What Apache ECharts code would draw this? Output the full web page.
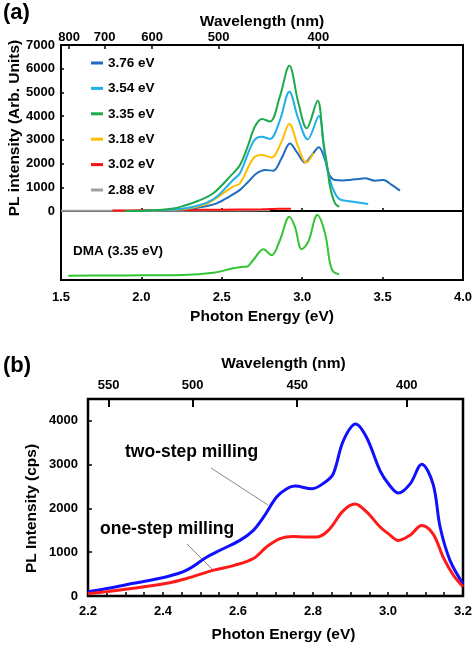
<!DOCTYPE html>
<html><head><meta charset="utf-8">
<script src="https://cdn.jsdelivr.net/npm/echarts@6/dist/echarts.min.js"></script>
<style>html,body{margin:0;padding:0;background:#fff}#c{width:472px;height:645px}</style>
</head><body><div id="c"></div>
<script>
// ---------- Panel (a) data ----------
const legendNamesA = ['3.76 eV', '3.54 eV', '3.35 eV', '3.18 eV', '3.02 eV', '2.88 eV'];
const colorsA = ['#1f6cc0', '#21aeea', '#1fa84c', '#ffbf00', '#ff1010', '#a0a0a0'];

const e376 = [1.9, 2.05, 2.2, 2.3, 2.4, 2.468, 2.55, 2.613, 2.66, 2.717, 2.77, 2.82, 2.87, 2.924, 2.97, 3.017, 3.06, 3.103, 3.142, 3.169, 3.204, 3.25, 3.297, 3.35, 3.39, 3.453, 3.505, 3.557, 3.608];
const v376 = [0, 10, 40, 90, 200, 320, 620, 890, 1200, 1590, 1730, 1700, 2200, 2850, 2450, 2040, 2350, 2690, 2150, 1520, 1310, 1290, 1310, 1350, 1380, 1280, 1310, 1100, 860];

const e354 = [1.9, 2.05, 2.2, 2.3, 2.4, 2.468, 2.57, 2.613, 2.696, 2.748, 2.8, 2.86, 2.92, 2.975, 3.034, 3.103, 3.142, 3.173, 3.204, 3.235, 3.318, 3.41];
const v354 = [0, 15, 60, 150, 330, 600, 1310, 1590, 2920, 3130, 3040, 3800, 5030, 3900, 3020, 4010, 2290, 1310, 750, 490, 390, 300];

const e335 = [1.9, 2.05, 2.2, 2.26, 2.35, 2.447, 2.55, 2.613, 2.66, 2.706, 2.75, 2.8, 2.86, 2.92, 2.975, 3.028, 3.096, 3.13, 3.156, 3.173, 3.204, 3.23];
const v335 = [0, 20, 110, 210, 420, 750, 1450, 1940, 2700, 3560, 3880, 3770, 4800, 6120, 4600, 3490, 4650, 2990, 1870, 1030, 320, 180];

const e318 = [1.9, 2.05, 2.2, 2.3, 2.4, 2.447, 2.57, 2.613, 2.696, 2.748, 2.81, 2.87, 2.92, 2.975, 3.024, 3.07];
const v318 = [0, 10, 50, 120, 280, 460, 1030, 1170, 2220, 2360, 2260, 2900, 3670, 2700, 2040, 2430];

const e302 = [1.82, 2.0, 2.2, 2.4, 2.6, 2.75, 2.8, 2.85, 2.93];
const v302 = [20, 30, 40, 50, 60, 70, 80, 90, 90];

const e288 = [1.5, 2.0, 2.5, 2.8];
const v288 = [10, 10, 20, 30];

// DMA (3.35 eV), normalized intensity
const eDMA = [1.545, 1.8, 2.0, 2.26, 2.447, 2.57, 2.62, 2.655, 2.696, 2.758, 2.81, 2.862, 2.92, 2.955, 2.997, 3.038, 3.094, 3.142, 3.173, 3.193, 3.229];
const vDMA = [0.062, 0.065, 0.068, 0.072, 0.105, 0.169, 0.19, 0.193, 0.29, 0.445, 0.36, 0.58, 0.917, 0.77, 0.445, 0.555, 0.942, 0.677, 0.242, 0.121, 0.083];

const wavelengthTicksA = [800, 700, 600, 500, 400];
const energyTicksA = [1.5, 2.0, 2.5, 3.0, 3.5, 4.0];
const intensityTicksA = [0, 1000, 2000, 3000, 4000, 5000, 6000, 7000];

// ---------- Panel (b) data ----------
const eTwo = [2.2, 2.25, 2.321, 2.41, 2.463, 2.517, 2.552, 2.605, 2.641, 2.668, 2.703, 2.73, 2.752, 2.797, 2.832, 2.854, 2.881, 2.914, 2.943, 2.979, 3.005, 3.028, 3.059, 3.09, 3.12, 3.139, 3.165, 3.2];
const vTwo = [98, 170, 290, 440, 590, 890, 1045, 1270, 1500, 1800, 2260, 2450, 2510, 2450, 2600, 2790, 3550, 3930, 3620, 2860, 2520, 2350, 2560, 3010, 2560, 1575, 820, 280];

const eOne = [2.2, 2.25, 2.321, 2.41, 2.463, 2.535, 2.59, 2.641, 2.676, 2.712, 2.747, 2.78, 2.81, 2.841, 2.881, 2.912, 2.943, 2.979, 3.0, 3.028, 3.059, 3.09, 3.12, 3.147, 3.174, 3.2];
const vOne = [50, 100, 175, 290, 400, 590, 700, 855, 1120, 1310, 1360, 1350, 1350, 1500, 1950, 2100, 1920, 1575, 1430, 1270, 1390, 1610, 1420, 890, 480, 210];

const wavelengthTicksB = [550, 500, 450, 400];
const wavelengthTickPosB = [2.255, 2.479, 2.758, 3.05];
const energyTicksB = [2.2, 2.4, 2.6, 2.8, 3.0, 3.2];
const intensityTicksB = [0, 1000, 2000, 3000, 4000];

// ---------- helpers ----------
const FF = '"Liberation Sans", Arial, sans-serif';
const zip = (xs, ys) => xs.map((x, i) => [x, ys[i]]);
const lbl = (size, extra) => Object.assign({ fontFamily: FF, fontWeight: 'bold', fontSize: size, color: '#000' }, extra || {});
const tickStyle = { color: '#000', width: 1.5 };
const minorB = [];
for (let k = 0; k <= 20; k++) minorB.push(+(2.2 + k * 0.05).toFixed(2));

const chart = echarts.init(document.getElementById('c'), null, { renderer: 'canvas' });

const lineA = (name, xs, ys, color, xi, yi, w) => ({
  name, type: 'line', xAxisIndex: xi, yAxisIndex: yi, data: zip(xs, ys),
  smooth: 0.35, showSymbol: false, symbol: 'none',
  lineStyle: { color, width: w || 2 }, itemStyle: { color }, z: 3
});

const option = {
  animation: false,
  backgroundColor: '#fff',
  textStyle: { fontFamily: FF },
  grid: [
    { left: 61, top: 45, width: 402, height: 166, show: true, borderColor: '#000', borderWidth: 2, backgroundColor: 'transparent', outerBoundsMode: 'none' },
    { left: 61, top: 211, width: 402, height: 69, show: true, borderColor: '#000', borderWidth: 2, backgroundColor: 'transparent', outerBoundsMode: 'none' },
    { left: 88, top: 399, width: 375, height: 197, show: true, borderColor: '#000', borderWidth: 2.5, backgroundColor: 'transparent', outerBoundsMode: 'none' }
  ],
  xAxis: [
    { // 0: upper (a) bottom (divider)
      gridIndex: 0, type: 'value', position: 'bottom', min: 1.5, max: 4.0, interval: 0.5,
      axisLine: { show: false }, splitLine: { show: false }, axisLabel: { show: false },
      axisTick: { show: true, inside: true, length: 3, lineStyle: tickStyle }
    },
    { // 1: upper (a) top wavelength
      gridIndex: 0, type: 'value', position: 'top', min: 1.5, max: 4.0,
      axisLine: { show: false }, splitLine: { show: false },
      axisTick: { show: true, inside: true, length: 4, lineStyle: tickStyle, customValues: wavelengthTicksA.map(w => 1240 / w) },
      axisLabel: Object.assign(lbl(13), { margin: 1, customValues: wavelengthTicksA.map(w => 1240 / w), formatter: v => String(Math.round(1240 / v / 10) * 10) }),
      name: 'Wavelength (nm)', nameLocation: 'middle', nameGap: 15, nameMoveOverlap: false, nameTextStyle: lbl(15.5)
    },
    { // 2: lower (a) bottom energy
      gridIndex: 1, type: 'value', position: 'bottom', min: 1.5, max: 4.0, interval: 0.5,
      axisLine: { show: false }, splitLine: { show: false },
      axisTick: { show: true, inside: true, length: 3, lineStyle: tickStyle },
      axisLabel: Object.assign(lbl(13), { margin: 11, customValues: energyTicksA, formatter: v => v.toFixed(1) }),
      name: 'Photon Energy (eV)', nameLocation: 'middle', nameGap: 29, nameMoveOverlap: false, nameTextStyle: lbl(15.5)
    },
    { // 3: (b) bottom energy
      gridIndex: 2, type: 'value', position: 'bottom', min: 2.2, max: 3.2,
      axisLine: { show: false }, splitLine: { show: false },
      axisTick: { show: true, inside: true, length: 4, lineStyle: tickStyle, customValues: minorB },
      axisLabel: Object.assign(lbl(13), { margin: 9, customValues: energyTicksB, formatter: v => v.toFixed(1) }),
      name: 'Photon Energy (eV)', nameLocation: 'middle', nameGap: 31, nameMoveOverlap: false,
      nameTextStyle: lbl(15.5, { padding: [0, 0, 0, 16] })
    },
    { // 4: (b) top wavelength
      gridIndex: 2, type: 'value', position: 'top', min: 2.2, max: 3.2,
      axisLine: { show: false }, splitLine: { show: false },
      axisTick: { show: true, inside: true, length: 8, lineStyle: { color: '#000', width: 2 }, customValues: wavelengthTickPosB },
      axisLabel: Object.assign(lbl(13), {
        margin: 7, customValues: wavelengthTickPosB,
        formatter: v => {
          let best = 0;
          wavelengthTickPosB.forEach((p, i) => { if (Math.abs(p - v) < Math.abs(wavelengthTickPosB[best] - v)) best = i; });
          return String(wavelengthTicksB[best]);
        }
      }),
      name: 'Wavelength (nm)', nameLocation: 'middle', nameGap: 27, nameMoveOverlap: false,
      nameTextStyle: lbl(15.5, { padding: [0, 0, 0, 16] })
    }
  ],
  yAxis: [
    { // 0: (a) upper intensity
      gridIndex: 0, type: 'value', min: 0, max: 7000, interval: 1000,
      axisLine: { show: false }, splitLine: { show: false },
      axisTick: { show: true, inside: true, length: 3, lineStyle: tickStyle },
      axisLabel: Object.assign(lbl(13), { margin: 6, customValues: intensityTicksA, formatter: v => String(v) }),
      name: 'PL intensity (Arb. Units)', nameLocation: 'middle', nameGap: 38, nameMoveOverlap: false, nameTextStyle: lbl(15.5)
    },
    { // 1: (a) lower DMA
      gridIndex: 1, type: 'value', min: 0, max: 1, show: false
    },
    { // 2: (b) intensity
      gridIndex: 2, type: 'value', min: 0, max: 4500,
      axisLine: { show: false }, splitLine: { show: false },
      axisTick: { show: true, inside: true, length: 4, lineStyle: tickStyle, customValues: intensityTicksB },
      axisLabel: Object.assign(lbl(13), { margin: 10, customValues: intensityTicksB, formatter: v => String(v) }),
      name: 'PL Intensity (cps)', nameLocation: 'middle', nameGap: 48, nameMoveOverlap: false,
      nameTextStyle: lbl(15.5, { padding: [0, 22, 0, 0] })
    }
  ],
  legend: {
    data: legendNamesA, orient: 'vertical', left: 86, top: 51,
    icon: 'rect', itemWidth: 12, itemHeight: 3, itemGap: 11.4,
    textStyle: lbl(13.5), selectedMode: false
  },
  graphic: [
    { type: 'text', left: 3, top: 2, style: { text: '(a)', font: 'bold 22px ' + FF, fill: '#000' } },
    { type: 'text', left: 3, top: 355, style: { text: '(b)', font: 'bold 22px ' + FF, fill: '#000' } },
    { type: 'text', left: 73, top: 244, style: { text: 'DMA (3.35 eV)', font: 'bold 13.5px ' + FF, fill: '#000' } },
    { type: 'text', left: 125, top: 443, style: { text: 'two-step milling', font: 'bold 17.5px ' + FF, fill: '#000' } },
    { type: 'text', left: 100, top: 520, style: { text: 'one-step milling', font: 'bold 17.5px ' + FF, fill: '#000' } },
    { type: 'line', shape: { x1: 211, y1: 468, x2: 268, y2: 505 }, style: { stroke: '#888', lineWidth: 1 } },
    { type: 'line', shape: { x1: 187, y1: 544, x2: 213, y2: 570 }, style: { stroke: '#888', lineWidth: 1 } }
  ],
  series: [
    lineA('2.88 eV', e288, v288, colorsA[5], 0, 0),
    lineA('3.02 eV', e302, v302, colorsA[4], 0, 0),
    lineA('3.76 eV', e376, v376, colorsA[0], 0, 0),
    lineA('3.18 eV', e318, v318, colorsA[3], 0, 0),
    lineA('3.54 eV', e354, v354, colorsA[1], 0, 0),
    lineA('3.35 eV', e335, v335, colorsA[2], 0, 0),
    lineA('DMA (3.35 eV)', eDMA, vDMA, '#33c433', 2, 1),
    lineA('two-step milling', eTwo, vTwo, '#1010ff', 3, 2, 3),
    lineA('one-step milling', eOne, vOne, '#ff1a1a', 3, 2, 3)
  ]
};
chart.setOption(option);
</script></body></html>
